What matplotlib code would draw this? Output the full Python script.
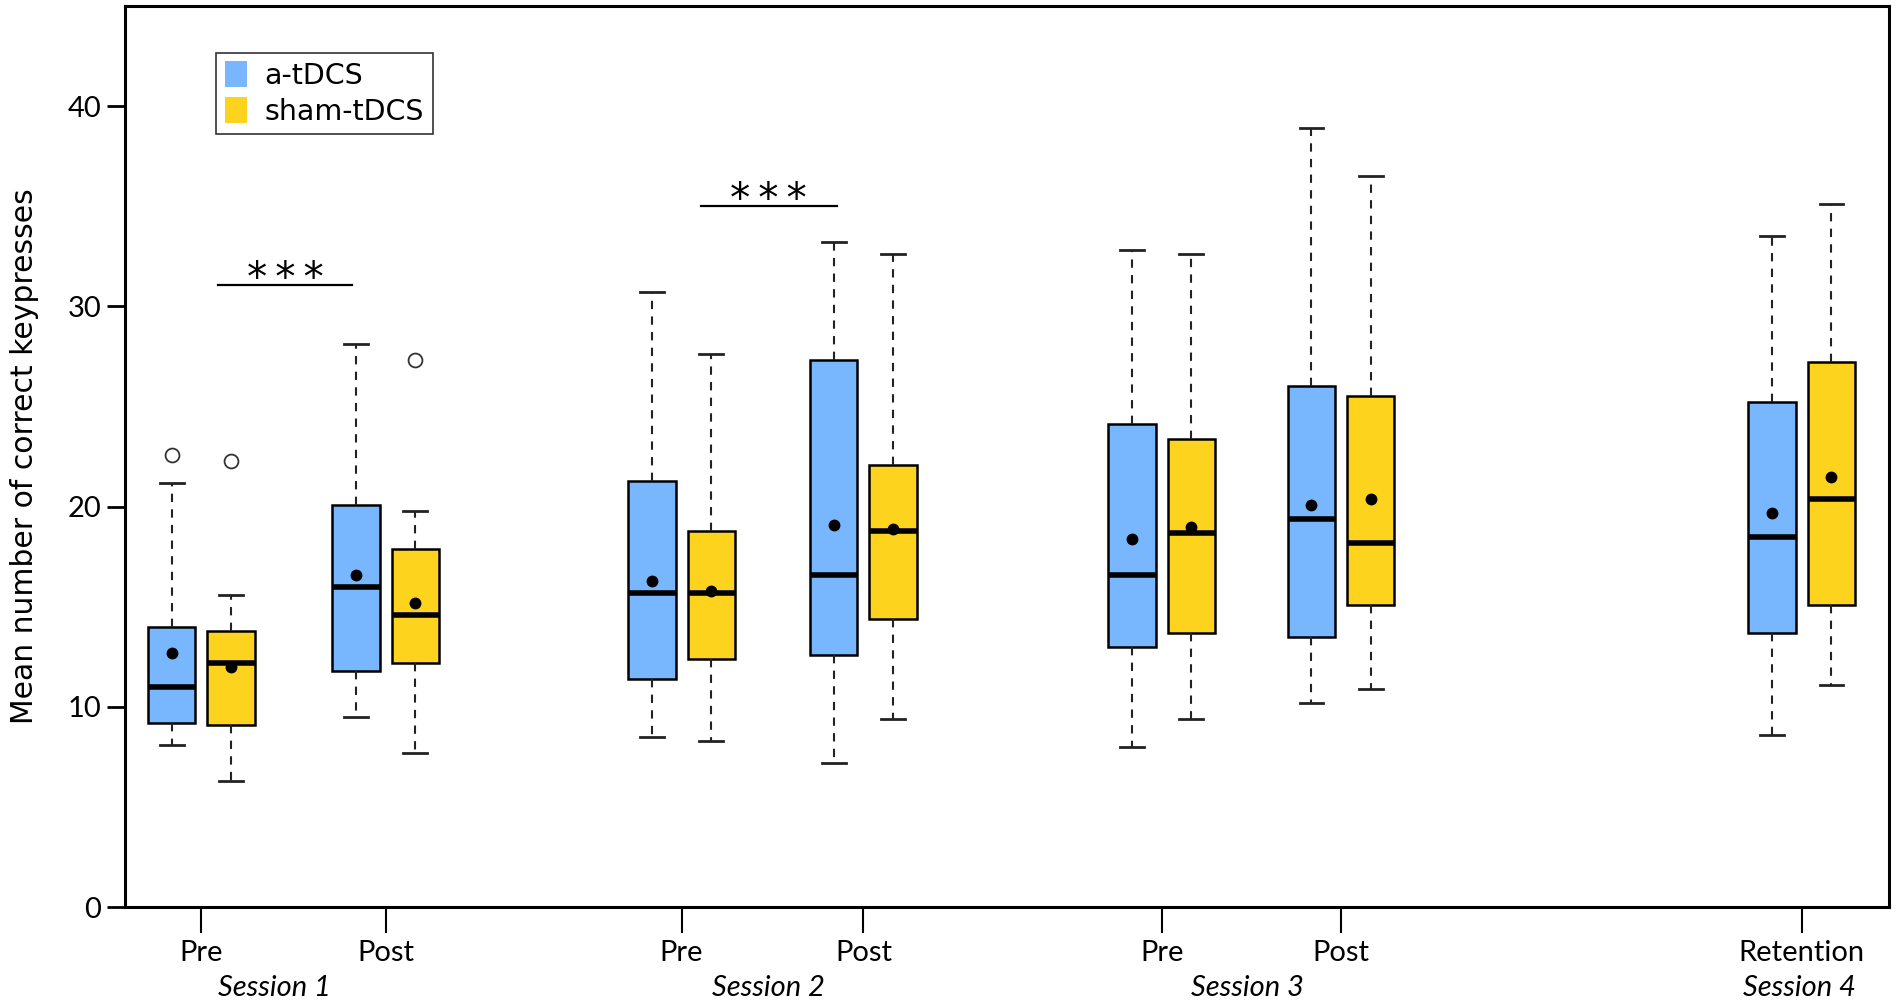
import numpy as np
import matplotlib.pyplot as plt
from matplotlib.patches import Patch

# ── data ──────────────────────────────────────────────────────────────────
positions   = [1.0, 2.013, 3.64, 4.64, 6.28, 7.267, 9.8]
tick_labels = ["Pre", "Post", "Pre", "Post", "Pre", "Post", "Retention"]
sessions    = ["Session 1", "Session 2", "Session 3", "Session 4"]
session_x   = [1.4, 4.12, 6.75, 9.79]

# per condition: whislo, q1, med, q3, whishi, mean
atdcs_lo   = [8.1, 9.5, 8.5, 7.2, 8.0, 10.2, 8.6]
atdcs_q1   = [9.2, 11.8, 11.4, 12.6, 13.0, 13.5, 13.7]
atdcs_med  = [11.0, 16.0, 15.7, 16.6, 16.6, 19.4, 18.5]
atdcs_q3   = [14.0, 20.1, 21.3, 27.3, 24.1, 26.0, 25.2]
atdcs_hi   = [21.2, 28.1, 30.7, 33.2, 32.8, 38.9, 33.5]
atdcs_mean = [12.7, 16.6, 16.3, 19.1, 18.4, 20.1, 19.7]
atdcs_out  = [[22.6], [], [], [], [], [], []]

sham_lo    = [6.3, 7.7, 8.3, 9.4, 9.4, 10.9, 11.1]
sham_q1    = [9.1, 12.2, 12.4, 14.4, 13.7, 15.1, 15.1]
sham_med   = [12.2, 14.6, 15.7, 18.8, 18.7, 18.2, 20.4]
sham_q3    = [13.8, 17.9, 18.8, 22.1, 23.4, 25.5, 27.2]
sham_hi    = [15.6, 19.8, 27.6, 32.6, 32.6, 36.5, 35.1]
sham_mean  = [12.0, 15.2, 15.8, 18.9, 19.0, 20.4, 21.5]
sham_out   = [[22.3], [27.3], [], [], [], [], []]

# significance bars: x start, x end, y
sig_x0 = [1.093, 3.747]
sig_x1 = [1.827, 4.493]
sig_y  = [31.05, 35.0]

BLUE   = "#78b6fd"
YELLOW = "#fdd31e"
offset = 0.163
width  = 0.26


def makeStats(lo, q1, med, q3, hi, mean, out):
    return [dict(whislo=a, q1=b, med=c, q3=d, whishi=e, mean=f, fliers=g)
            for a, b, c, d, e, f, g in zip(lo, q1, med, q3, hi, mean, out)]


fig = plt.figure(figsize=(19.01, 10.05), dpi=100)
ax = fig.add_axes([0.0658, 0.0975, 0.9279, 0.8965])

common = dict(
    widths=width, patch_artist=True, showmeans=True, showfliers=True,
    whiskerprops=dict(linestyle=(0, (4, 3.5)), linewidth=1.5, color="#222222"),
    capprops=dict(linewidth=2, color="#222222"),
    medianprops=dict(linewidth=4, color="black", solid_capstyle="butt"),
    meanprops=dict(marker="o", markerfacecolor="black", markeredgecolor="black",
                   markersize=7.5),
    flierprops=dict(marker="o", markerfacecolor="white", markeredgecolor="#333333",
                    markersize=10, markeredgewidth=1.3),
    manage_ticks=False,
)

for stats, shift, col in [
    (makeStats(atdcs_lo, atdcs_q1, atdcs_med, atdcs_q3, atdcs_hi, atdcs_mean, atdcs_out), -offset, BLUE),
    (makeStats(sham_lo, sham_q1, sham_med, sham_q3, sham_hi, sham_mean, sham_out), offset, YELLOW),
]:
    ax.bxp(stats, positions=[p + shift for p in positions],
           boxprops=dict(facecolor=col, edgecolor="black", linewidth=1.8),
           capwidths=width * 0.5, **common)

# significance markers
for x0, x1, y in zip(sig_x0, sig_x1, sig_y):
    ax.plot([x0, x1], [y, y], color="black", linewidth=1.6)
    ax.text((x0 + x1) / 2, y - 0.3, "*\u2009*\u2009*", ha="center", va="baseline",
            fontsize=29, family="DejaVu Sans")

ax.set_xlim(0.58, 10.28)
ax.set_ylim(0, 45)
ax.set_yticks([0, 10, 20, 30, 40])
ax.set_xticks(positions)
ax.set_xticklabels(tick_labels, family="Lato", fontsize=21)
ax.set_yticklabels(["0", "10", "20", "30", "40"], family="Lato", fontsize=21)
ax.tick_params(axis="y", direction="out", length=13, width=2, pad=4)
ax.tick_params(axis="x", direction="out", length=19, width=1.5, pad=5)
for s in ax.spines.values():
    s.set_linewidth(2.2)

for name, x in zip(sessions, session_x):
    ax.annotate(name, xy=(x, 0), xycoords=("data", "axes fraction"),
                xytext=(0, -58), textcoords="offset points",
                ha="center", va="center", family="Lato", style="italic",
                fontsize=21)

ax.set_ylabel("Mean number of correct keypresses", fontsize=21.5,
              family="DejaVu Sans")
ax.yaxis.set_label_coords(-0.049, 0.5)

handles = [Patch(facecolor=BLUE, edgecolor="none", label="a-tDCS"),
           Patch(facecolor=YELLOW, edgecolor="none", label="sham-tDCS")]
leg = ax.legend(handles=handles, loc="upper left", bbox_to_anchor=(0.0516, 0.948),
                fontsize=20.5, frameon=True, fancybox=False, borderpad=0.3,
                handlelength=0.8, handleheight=1.0, handletextpad=0.6,
                labelspacing=0.25, borderaxespad=0)
leg.get_frame().set_edgecolor("black")
leg.get_frame().set_linewidth(1.2)

fig.savefig("out.png", dpi=100)
